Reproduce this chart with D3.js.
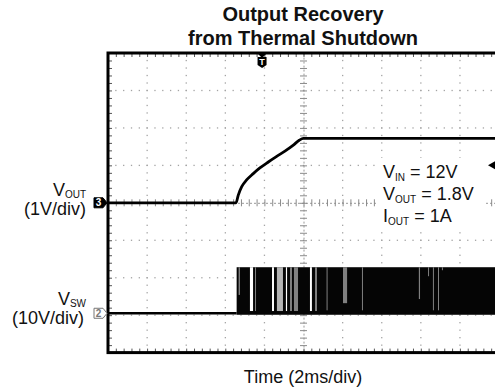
<!DOCTYPE html>
<html>
<head>
<meta charset="utf-8">
<script src="https://cdn.jsdelivr.net/npm/d3@7"></script>
<style>
  html, body { margin: 0; padding: 0; background: #fff; }
  svg { display: block; font-family: "Liberation Sans", Arial, sans-serif; }
</style>
</head>
<body>
<svg id="chart" width="495" height="391"></svg>
<script>
// Time axis: 2 ms per division, 10 divisions
const timeDomainMs = [0, 20];
const divisionsX = 10;
const divisionsY = 8;

// Channel 3: output voltage (1 V/div)
const voutTimeMs = [0, 6.55, 6.66, 6.84, 7.09, 7.43, 7.77, 8.20, 8.63, 9.05, 9.48, 9.78, 9.99, 20];
const voutVolts  = [0, 0,    0.20, 0.43, 0.61, 0.78, 0.93, 1.09, 1.24, 1.38, 1.54, 1.67, 1.72, 1.72];

// Channel 2: switch node (10 V/div)
const swBaseTimeMs = [0, 6.58];
const swBaseVolts  = [0, 0];
const swBurstStartMs = 6.58;
const swBurstEndMs = 20;
const swHighVolts = 12.3;
const swLowVolts = -0.4;

// Intervals in the switching burst where pulses drop out
const gapStartMs  = [6.68, 7.26, 7.52, 8.39, 8.64, 9.10, 9.31, 9.51, 10.33, 10.59, 11.18, 12.02, 12.99, 15.90, 16.37, 16.62, 16.88, 17.08];
const gapEndMs    = [6.75, 7.42, 7.57, 8.49, 8.95, 9.16, 9.41, 9.72, 10.43, 10.69, 11.23, 12.23, 13.04, 15.96, 16.42, 16.67, 16.93, 17.13];
const gapFloorV   = [4.9,  0.6,  0.6,  0.6,  0.6,  0.6,  0.6,  0.6,  0.6,   0.6,   0.8,   2.7,   0.8,   3.8,   9.9,   0.8,   0.8,   11.5];
const gapDensity  = [0.5,  0.0,  0.5,  0.0,  0.3,  0.0,  0.5,  0.5,  0.0,   0.5,   0.5,   0.5,   0.5,   0.5,   0.5,   0.5,   0.5,   0.5];

// Trigger settings
const triggerTimeMs = 7.88;
const triggerLevelV = 1.0;

// Text
const titleLines = ["Output Recovery", "from Thermal Shutdown"];
const xAxisLabel = "Time (2ms/div)";
const conditions = [["V", "IN", " = 12V"], ["V", "OUT", " = 1.8V"], ["I", "OUT", " = 1A"]];

const svg = d3.select("#chart");

const plot = { left: 108, top: 53, right: 499, bottom: 352.6 };
const x = d3.scaleLinear().domain(timeDomainMs).range([plot.left, plot.right]);
const yDiv = d3.scaleLinear().domain([-divisionsY / 2, divisionsY / 2]).range([plot.bottom, plot.top]);
const divW = (plot.right - plot.left) / divisionsX;
const divH = (plot.bottom - plot.top) / divisionsY;

// channel scales: volts -> divisions relative to screen centre
const ch3 = { voltsPerDiv: 1, offsetDiv: 0 };
const ch2 = { voltsPerDiv: 10, offsetDiv: -2.95 };
const yCh = ch => v => yDiv(v / ch.voltsPerDiv + ch.offsetDiv);
const y3 = yCh(ch3);
const y2 = yCh(ch2);

// Title
svg.append("g").selectAll("text").data(titleLines).join("text")
  .attr("x", 303).attr("y", (d, i) => 21 + i * 24)
  .attr("text-anchor", "middle")
  .attr("font-size", 20).attr("font-weight", "bold").attr("fill", "#111")
  .text(d => d);

// Graticule dots
const grid = svg.append("g").attr("fill", "#a4a4a4");
const minorX = d3.range(0, divisionsX * 5 + 1).map(i => plot.left + i * divW / 5);
const minorY = d3.range(0, divisionsY * 5 + 1).map(i => plot.top + i * divH / 5);
for (let k = 1; k < divisionsX; k++) {
  if (k === divisionsX / 2) continue;
  const gx = plot.left + k * divW;
  minorY.forEach(py => grid.append("rect").attr("x", gx - 0.6).attr("y", py - 0.6).attr("width", 1.3).attr("height", 1.3));
}
for (let k = 1; k < divisionsY; k++) {
  if (k === divisionsY / 2) continue;
  const gy = plot.top + k * divH;
  minorX.forEach(px => grid.append("rect").attr("x", px - 0.6).attr("y", gy - 0.6).attr("width", 1.3).attr("height", 1.3));
}

// Centre crosshair with minor ticks
const tMinor = d3.range(0, 20.001, 0.4);
const dMinor = d3.range(-4, 4.001, 0.2);
const cx = x(10), cy = yDiv(0);
const centreH = svg.append("g").attr("transform", `translate(0,${cy - 3.5})`)
  .call(d3.axisBottom(x).tickValues(tMinor).tickSize(7).tickFormat(""));
centreH.select(".domain").attr("stroke", "#999").attr("stroke-dasharray", "2,2").attr("transform", "translate(0,3.5)");
centreH.selectAll(".tick line").attr("stroke", "#8a8a8a");
const centreV = svg.append("g").attr("transform", `translate(${cx - 3.5},0)`)
  .call(d3.axisRight(yDiv).tickValues(dMinor).tickSize(7).tickFormat(""));
centreV.select(".domain").attr("stroke", "#999").attr("stroke-dasharray", "2,2").attr("transform", "translate(3.5,0)");
centreV.selectAll(".tick line").attr("stroke", "#8a8a8a");

// Frame ticks (inside edges)
const frameTicks = [
  svg.append("g").attr("transform", `translate(0,${plot.top})`).call(d3.axisBottom(x).tickValues(tMinor).tickSize(4).tickFormat("")),
  svg.append("g").attr("transform", `translate(0,${plot.bottom})`).call(d3.axisTop(x).tickValues(tMinor).tickSize(4).tickFormat("")),
  svg.append("g").attr("transform", `translate(${plot.left},0)`).call(d3.axisRight(yDiv).tickValues(dMinor).tickSize(4).tickFormat(""))
];
frameTicks.forEach(g => {
  g.select(".domain").remove();
  g.selectAll(".tick line").attr("stroke", "#555");
});

// Conditions box (white background)
svg.append("rect").attr("x", 376).attr("y", 158).attr("width", 110).attr("height", 70).attr("fill", "#fff");
const cond = svg.append("g").attr("font-size", 18).attr("fill", "#111");
conditions.forEach((c, i) => {
  const t = cond.append("text").attr("x", 383).attr("y", 178 + i * 22);
  t.append("tspan").text(c[0]);
  t.append("tspan").attr("font-size", 10).attr("dy", 3).text(c[1]);
  t.append("tspan").attr("dy", -3).text(c[2]);
});

// Switch node trace
svg.append("path")
  .attr("d", d3.line().x((d, i) => x(swBaseTimeMs[i])).y((d, i) => y2(swBaseVolts[i]))(swBaseTimeMs))
  .attr("fill", "none").attr("stroke", "#000").attr("stroke-width", 2.6);
svg.append("rect")
  .attr("x", x(swBurstStartMs)).attr("y", y2(swHighVolts))
  .attr("width", x(swBurstEndMs) - x(swBurstStartMs))
  .attr("height", y2(swLowVolts) - y2(swHighVolts))
  .attr("fill", "#050505");
const shade = d3.scaleLinear().domain([0, 1]).range(["#ffffff", "#000000"]);
svg.append("g").selectAll("rect").data(gapStartMs).join("rect")
  .attr("x", d => x(d))
  .attr("y", y2(swHighVolts))
  .attr("width", (d, i) => Math.max(1, x(gapEndMs[i]) - x(d)))
  .attr("height", (d, i) => y2(gapFloorV[i]) - y2(swHighVolts))
  .attr("fill", (d, i) => shade(gapDensity[i]));

// Output voltage trace
svg.append("path")
  .attr("d", d3.line().x((d, i) => x(voutTimeMs[i])).y((d, i) => y3(voutVolts[i])).curve(d3.curveMonotoneX)(voutTimeMs))
  .attr("fill", "none").attr("stroke", "#000").attr("stroke-width", 2.8).attr("stroke-linejoin", "round");

// Frame
svg.append("rect")
  .attr("x", plot.left).attr("y", plot.top)
  .attr("width", plot.right - plot.left).attr("height", plot.bottom - plot.top)
  .attr("fill", "none").attr("stroke", "#000").attr("stroke-width", 3);

// Channel markers
function marker(yPos, label, filled) {
  const g = svg.append("g").attr("transform", `translate(${plot.left - 1},${yPos})`);
  g.append("path").attr("d", "M-13,-5 L-4,-5 L0,0 L-4,5 L-13,5 Z")
    .attr("fill", filled ? "#000" : "#fff").attr("stroke", filled ? "#000" : "#777").attr("stroke-width", 1);
  g.append("text").attr("x", -8.5).attr("y", 3.5).attr("text-anchor", "middle")
    .attr("font-size", 10).attr("font-weight", "bold").attr("fill", filled ? "#fff" : "#777").text(label);
}
marker(y3(0), "3", true);
marker(y2(0), "2", false);

// Trigger position marker
const tg = svg.append("g").attr("transform", `translate(${x(triggerTimeMs)},${plot.top})`);
tg.append("path").attr("d", "M-5,0 L5,0 L0,5 Z").attr("fill", "#000");
tg.append("path").attr("d", "M-4.5,4 L4.5,4 L4.5,12 L0,15 L-4.5,12 Z").attr("fill", "#000");
tg.append("text").attr("x", 0).attr("y", 12).attr("text-anchor", "middle")
  .attr("font-size", 9).attr("font-weight", "bold").attr("fill", "#fff").text("T");

// Trigger level marker
svg.append("path")
  .attr("transform", `translate(488,${y3(triggerLevelV)})`)
  .attr("d", "M0,0 L7,-4 L7,4 Z").attr("fill", "#000");

// Channel labels
function chLabel(yBase, sub, scaleText, scaleX) {
  const t = svg.append("text").attr("x", 86).attr("y", yBase).attr("text-anchor", "end").attr("font-size", 18).attr("fill", "#111");
  t.append("tspan").text("V");
  t.append("tspan").attr("font-size", 10).attr("dy", 2).text(sub);
  svg.append("text").attr("x", scaleX).attr("y", yBase + 19).attr("text-anchor", "end")
    .attr("font-size", 18).attr("fill", "#111").text(scaleText);
}
chLabel(196, "OUT", "(1V/div)", 86);
chLabel(305, "SW", "(10V/div)", 84);

// X axis label
svg.append("text").attr("x", 303).attr("y", 383).attr("text-anchor", "middle")
  .attr("font-size", 18).attr("fill", "#111").text(xAxisLabel);
</script>
</body>
</html>
